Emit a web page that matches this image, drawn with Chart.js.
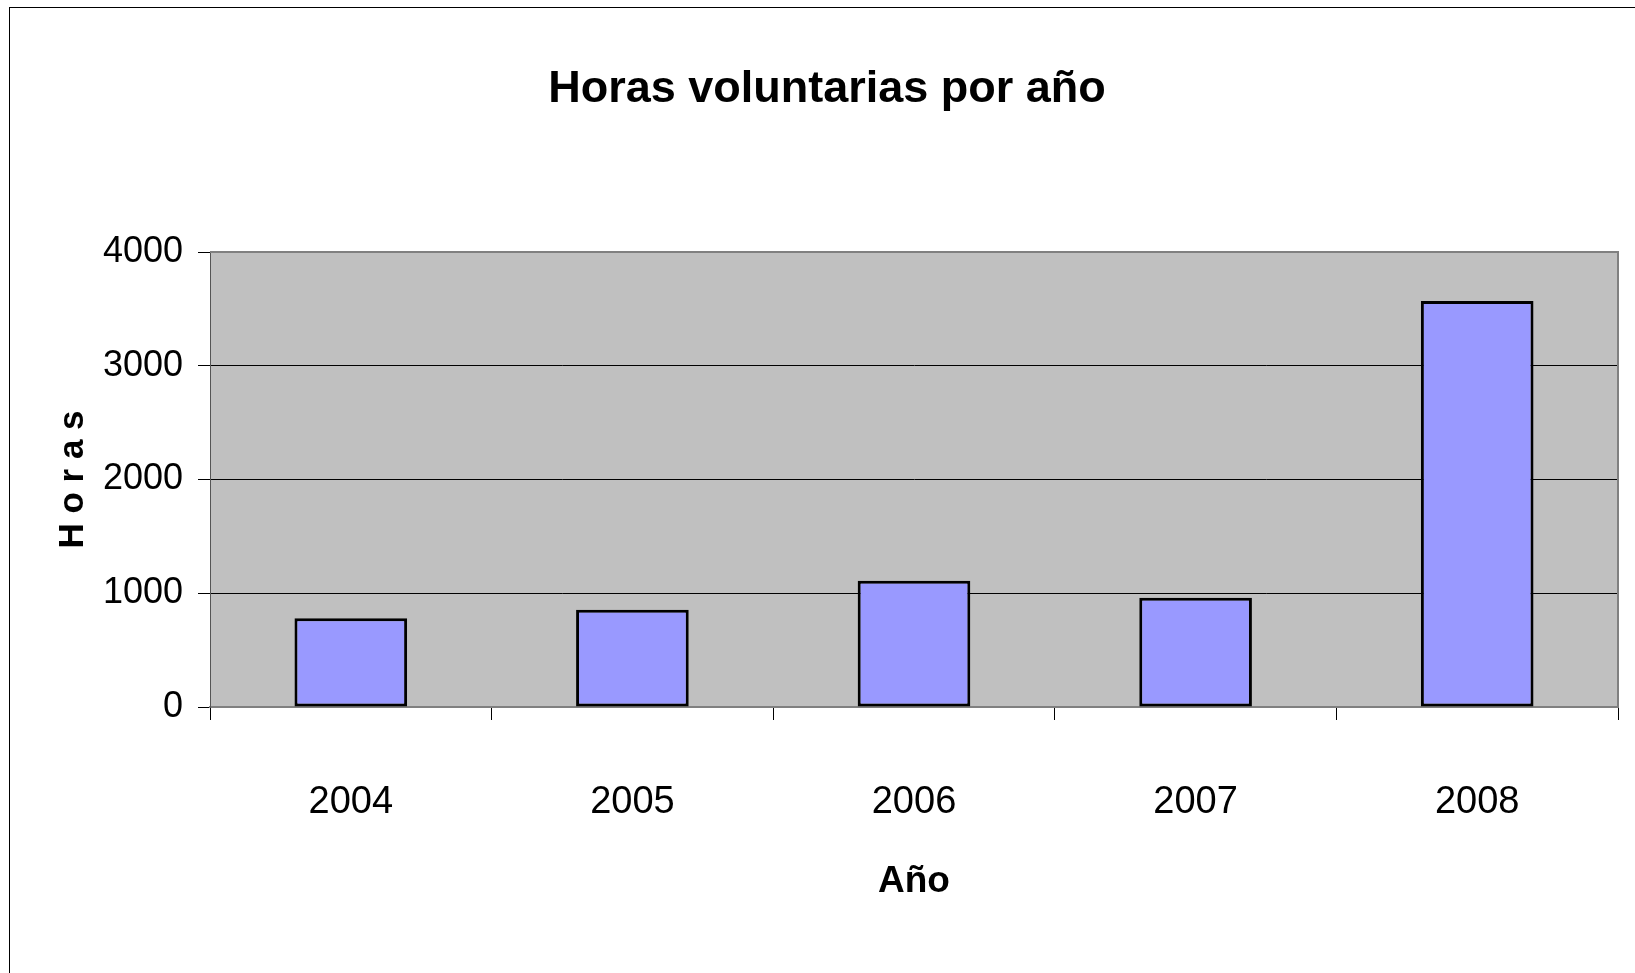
<!DOCTYPE html>
<html>
<head>
<meta charset="utf-8">
<title>Horas voluntarias por año</title>
<script src="https://cdn.jsdelivr.net/npm/chart.js@4"></script>
<style>
  html, body { margin: 0; padding: 0; background: #fff; }
  canvas { display: block; }
</style>
</head>
<body>
<canvas id="horasChart" width="1635" height="973"></canvas>
<script>
// data
const years = ['2004', '2005', '2006', '2007', '2008'];
const horas = [780, 855, 1110, 960, 3570];
const yTicks = [0, 1000, 2000, 3000, 4000];

const sans = "'Liberation Sans', Arial, sans-serif";

// grey plot area, its border and the outer frame
const plotBackground = {
    id: 'plotBackground',
    beforeDraw(chart) {
        const ctx = chart.ctx;
        const a = chart.chartArea;
        ctx.save();
        ctx.strokeStyle = '#000';
        ctx.lineWidth = 1;
        ctx.strokeRect(9.5, 7.5, 1700, 1000);
        ctx.fillStyle = '#C0C0C0';
        ctx.fillRect(a.left, a.top, a.right - a.left, a.bottom - a.top);
        ctx.restore();
    },
    afterDatasetsDraw(chart) {
        const ctx = chart.ctx;
        const a = chart.chartArea;
        ctx.save();
        ctx.strokeStyle = '#808080';
        ctx.lineWidth = 2;
        ctx.beginPath();
        ctx.moveTo(a.left, a.top);
        ctx.lineTo(a.right, a.top);
        ctx.lineTo(a.right, a.bottom);
        ctx.stroke();
        ctx.restore();
    }
};

const ctx = document.getElementById('horasChart').getContext('2d');
const horasChart = new Chart(ctx, {
    type: 'bar',
    data: {
        labels: years,
        datasets: [{
            label: 'Horas',
            data: horas,
            backgroundColor: '#9999FF',
            borderColor: '#000',
            borderWidth: 3,
            borderSkipped: false,
            barPercentage: 0.4,
            categoryPercentage: 1.0
        }]
    },
    options: {
        responsive: false,
        animation: false,
        layout: { padding: { left: 36, right: 17, top: 0, bottom: 62 } },
        plugins: {
            legend: { display: false },
            tooltip: { enabled: false },
            title: {
                display: true,
                text: 'Horas voluntarias por año',
                color: '#000',
                font: { family: sans, size: 45, weight: 'bold' },
                padding: { top: 63, bottom: 135 }
            }
        },
        scales: {
            x: {
                afterFit(scale) { scale.height = 204; },
                grid: {
                    display: true,
                    drawOnChartArea: false,
                    drawTicks: true,
                    tickLength: 13,
                    color: '#000',
                    offset: true
                },
                border: { display: true, color: '#808080', width: 2 },
                ticks: {
                    color: '#000',
                    font: { family: sans, size: 38 },
                    padding: 60
                },
                title: {
                    display: true,
                    text: 'Año',
                    color: '#000',
                    font: { family: sans, size: 37, weight: 'bold' },
                    padding: { top: 0, bottom: 7 }
                }
            },
            y: {
                min: 0,
                max: 4000,
                afterFit(scale) { scale.width = 174; },
                afterBuildTicks(scale) { scale.ticks = yTicks.map(v => ({ value: v })); },
                grid: {
                    color: '#000',
                    lineWidth: 1,
                    tickLength: 12
                },
                border: { display: true, color: '#555', width: 1 },
                ticks: {
                    color: '#000',
                    font: { family: sans, size: 36 },
                    padding: 15,
                    callback: v => String(v)
                },
                title: {
                    display: true,
                    text: 'H o r a s',
                    color: '#000',
                    font: { family: sans, size: 35, weight: 'bold' },
                    padding: { top: 16, bottom: 0 }
                }
            }
        }
    },
    plugins: [plotBackground]
});
</script>
</body>
</html>
